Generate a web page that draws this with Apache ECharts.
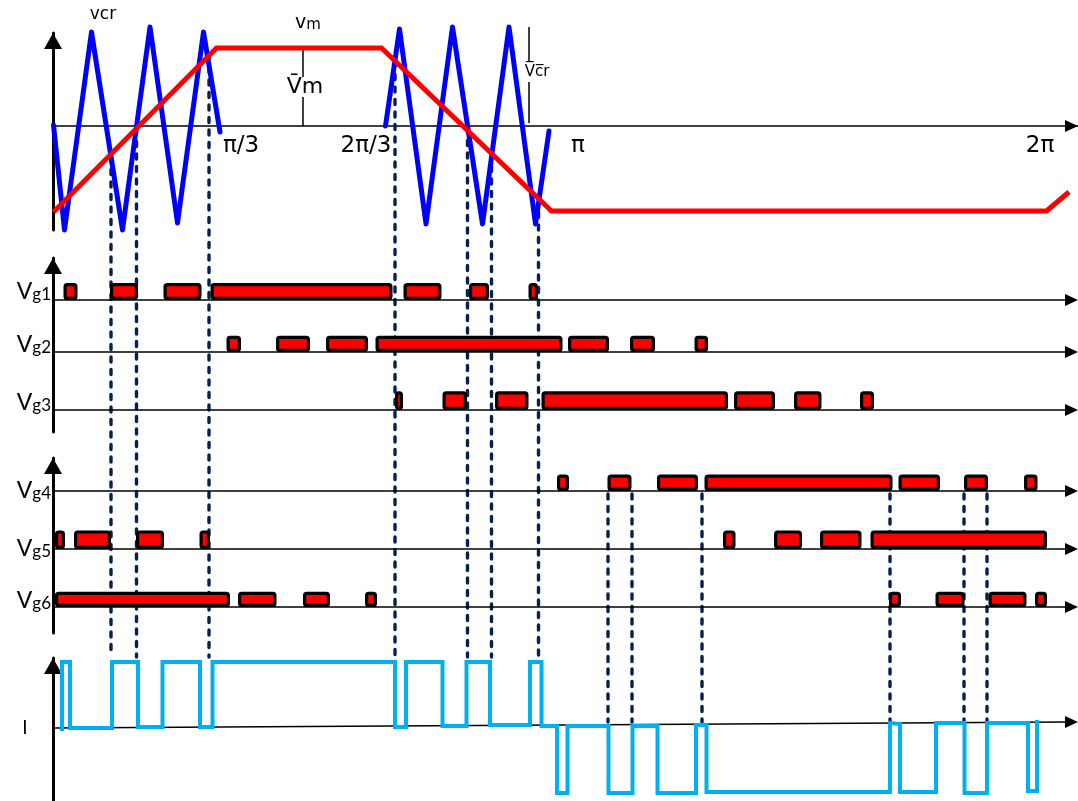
<!DOCTYPE html>
<html>
<head>
<meta charset="utf-8">
<script src="https://cdn.jsdelivr.net/npm/echarts/dist/echarts.min.js"></script>
<style>
html,body{margin:0;padding:0;background:#ffffff;}
#chart{width:1078px;height:801px;}
</style>
</head>
<body>
<div id="chart"></div>
<script>
// ---------------- DATA ----------------
// shared horizontal (angle) position scale
const X_MIN = 53, X_MAX = 1078;

// Panel A: triangular carriers (v_cr) and trapezoidal modulating wave (v_m); y = amplitude
const carrierFirst  = [[53.5,1],[64.5,-104],[91.5,94],[122.5,-104],[150,99],[177.5,-97],[203.5,94],[220,-6]];
const carrierSecond = [[385.5,0],[399.5,97],[426,-98],[452.5,99],[482.5,-98],[509,99],[535.5,-98],[549,-5]];
const modulating    = [[53.5,-86],[216.5,78],[381.5,78],[551.5,-85],[1046.5,-85],[1069,-66]];
// amplitude marker segments: [x, from, to]
const amplitudeMarks = [[303,78,49],[303,29,0],[529,99,64],[529,44,3]];
// angle tick labels
const angleTickLabels = ['π/3', '2π/3', 'π', '2π'];
const angleTickX = [241, 366, 578, 1040];
const angleTickY = -20;
// signal name labels in panel A
const signalLabels = ['vcr', 'vm', 'V\u0304m', 'V\u0305c\u0305r'];
const signalLabelPos = [[103,111],[308,103],[305,39],[537,54]];

// Panels B/C: gate pulses [start, end]
const vg1 = [[63.5,77.5],[110,138],[163.5,201.5],[210.5,392.5],[403.5,441.5],[469,489],[528.5,538]];
const vg2 = [[226.5,241],[276,310],[326,368],[375.5,562.5],[568,609],[630,655],[694.5,708]];
const vg3 = [[395,403],[442.5,467],[495,528.5],[541.5,728],[734,775],[794,821.5],[860,874]];
const vg4 = [[557,569],[607.5,631.5],[657,698],[704.5,892.5],[898.5,940],[964,988],[1024,1037.5]];
const vg5 = [[55,65],[74,111],[136,164],[199.5,210],[723,735.5],[774,802],[820,861.5],[870.5,1047]];
const vg6 = [[55,230],[238,276.5],[303,330],[365,377],[889,901],[935.5,964.5],[988.5,1026.5],[1035,1047]];
const gateNamesB = ['g1','g2','g3'];
const gateNamesC = ['g4','g5','g6'];
const rowBaseB = [132, 80, 22];
const rowBaseC = [142, 84, 26];
const pulseHeightB = [17, 16.3, 18.7];
const pulseHeightC = [16.5, 18.6, 15.3];
const gateLabelYB = [133, 80, 22];
const gateLabelYC = [135, 77, 25];
const gateLabelX = 51;

// Panel D: output current I (corner points)
const currentX = [62,62,70,70,112,112,138,138,162.5,162.5,200,200,212.5,212.5,395,395,406,406,442.5,442.5,466.5,466.5,490,490,530,530,541.5,541.5,
                  557,557,567.5,567.5,608.5,608.5,632.5,632.5,657.5,657.5,696,696,706.5,706.5,890,890,900,900,936,936,964.5,964.5,987,987,1028,1028,1037,1037];
const currentY = [-1,66,66,0,0,66,66,1,1,66,66,1,1,66,66,1,1,66,66,2,2,66,66,3,3,66,66,2,
                  2,-65,-65,2,2,-65,-65,2,2,-65,-65,3,3,-64,-64,5,4,-64,-64,5,5,-65,-65,5,5,-63,-63,6];
const currentBaseline = [[53,0],[1078,6]];

// Dotted switching guides (page scale, from top)
const guideLeftX   = [111, 136.5, 209, 395, 467.5, 491.5, 538.5];
const guideLeftTop = [155, 127, 53, 60, 126, 152, 198];
const guideLeftBottom = 657;
const guideRightX  = [608, 632, 702, 890, 964, 987];
const guideRightTop = 492;
const guideRightBottom = 722;

// ---------------- CHART ----------------
const chart = echarts.init(document.getElementById('chart'), null, {renderer: 'canvas'});

function xAxisFor(gi, showLine) {
  return {
    type: 'value', gridIndex: gi, min: X_MIN, max: X_MAX,
    axisLine: {show: showLine, onZero: true, symbol: ['none', 'triangle'], symbolSize: [12, 13], symbolOffset: [0, -6.5],
               lineStyle: {color: '#000', width: 1.5}},
    axisTick: {show: false}, axisLabel: {show: false}, splitLine: {show: false}
  };
}
function yAxisFor(gi, min, max, showLine, inverse) {
  return {
    type: 'value', gridIndex: gi, min: min, max: max, inverse: !!inverse,
    axisLine: {show: showLine, onZero: false, symbol: ['none', 'triangle'], symbolSize: [18, 16], symbolOffset: [0, -8],
               lineStyle: {color: '#000', width: 3}},
    axisTick: {show: false}, axisLabel: {show: false}, splitLine: {show: false}
  };
}

function baselineItem(params, api) {
  const p0 = api.coord([api.value(0), api.value(1)]);
  const p1 = api.coord([api.value(2), api.value(3)]);
  const dx = p1[0] - p0[0], dy = p1[1] - p0[1];
  const L = Math.hypot(dx, dy), ux = dx / L, uy = dy / L;
  const len = 13, half = 6;
  const bx = p1[0] - ux * len, by = p1[1] - uy * len;
  return {
    type: 'group', children: [
      {type: 'line', shape: {x1: p0[0], y1: p0[1], x2: bx + ux, y2: by + uy}, style: {stroke: '#000', lineWidth: 1.5}},
      {type: 'polygon', shape: {points: [[p1[0], p1[1]], [bx - uy * half, by + ux * half], [bx + uy * half, by - ux * half]]},
       style: {fill: '#000'}}
    ]
  };
}

function pulseItem(params, api) {
  const a = api.coord([api.value(0), api.value(2)]);
  const b = api.coord([api.value(1), api.value(2) + api.value(3)]);
  return {
    type: 'rect',
    shape: {x: a[0] + 1.6, y: b[1] + 1.6, width: b[0] - a[0] - 3.2, height: a[1] - b[1] - 3.2, r: 2},
    style: {fill: '#FF0000', stroke: '#000', lineWidth: 3.2}
  };
}

function pulseData(rows, bases, heights) {
  const out = [];
  rows.forEach((row, i) => row.forEach(p => out.push([p[0], p[1], bases[i], heights[i]])));
  return out;
}

function gateLabelSeries(gi, names, ys) {
  return {
    type: 'custom', xAxisIndex: gi, yAxisIndex: gi, z: 5, clip: false,
    data: names.map((n, i) => [gateLabelX, ys[i]]),
    renderItem: function (params, api) {
      const p = api.coord([api.value(0), api.value(1)]);
      return {
        type: 'text', x: p[0], y: p[1] + 4,
        style: {
          text: '{v|V}{s|' + names[params.dataIndex] + '}',
          align: 'right', verticalAlign: 'bottom', fill: '#000',
          rich: {
            v: {fontSize: 23, fontFamily: 'Lato', lineHeight: 23, verticalAlign: 'bottom', fill: '#000'},
            s: {fontSize: 17, fontFamily: 'Lato', lineHeight: 17, verticalAlign: 'bottom', fill: '#000'}
          }
        }
      };
    }
  };
}

const option = {
  animation: false,
  backgroundColor: '#ffffff',
  grid: [
    {left: X_MIN, right: 0, top: 33, height: 197},   // A modulation
    {left: X_MIN, right: 0, top: 258, height: 174},  // B Vg1..Vg3
    {left: X_MIN, right: 0, top: 458, height: 175},  // C Vg4..Vg6
    {left: X_MIN, right: 0, top: 658, height: 143},  // D current
    {left: X_MIN, right: 0, top: 0, height: 801}     // E page guides
  ],
  xAxis: [xAxisFor(0, true), xAxisFor(1, false), xAxisFor(2, false), xAxisFor(3, false), xAxisFor(4, false)],
  yAxis: [
    yAxisFor(0, -104, 93, true),
    yAxisFor(1, 0, 174, true),
    yAxisFor(2, 0, 175, true),
    yAxisFor(3, -73, 70, true),
    yAxisFor(4, 0, 801, false, true)
  ],
  series: [
    // dotted guides
    {
      type: 'custom', xAxisIndex: 4, yAxisIndex: 4, z: 1, clip: false,
      data: guideLeftX.map((x, i) => [x, guideLeftTop[i], guideLeftBottom])
            .concat(guideRightX.map(x => [x, guideRightTop, guideRightBottom])),
      renderItem: function (params, api) {
        const a = api.coord([api.value(0), api.value(1)]);
        const b = api.coord([api.value(0), api.value(2)]);
        return {type: 'line', shape: {x1: a[0], y1: a[1] + 2, x2: b[0], y2: b[1]},
                style: {stroke: '#06204F', lineWidth: 3.4, lineDash: [5, 7.5], lineCap: 'round'}};
      }
    },
    // carriers
    {type: 'line', xAxisIndex: 0, yAxisIndex: 0, data: carrierFirst, symbol: 'none', clip: false, z: 3,
     lineStyle: {color: '#0000FF', width: 5, join: 'round', cap: 'round'}},
    {type: 'line', xAxisIndex: 0, yAxisIndex: 0, data: carrierSecond, symbol: 'none', clip: false, z: 3,
     lineStyle: {color: '#0000FF', width: 5, join: 'round', cap: 'round'}},
    // modulating
    {type: 'line', xAxisIndex: 0, yAxisIndex: 0, data: modulating, symbol: 'none', clip: false, z: 4,
     lineStyle: {color: '#FF0000', width: 5, join: 'miter', cap: 'butt'}},
    // amplitude marker segments
    {
      type: 'custom', xAxisIndex: 0, yAxisIndex: 0, z: 4, clip: false, data: amplitudeMarks,
      renderItem: function (params, api) {
        const a = api.coord([api.value(0), api.value(1)]);
        const b = api.coord([api.value(0), api.value(2)]);
        return {type: 'line', shape: {x1: a[0], y1: a[1], x2: b[0], y2: b[1]}, style: {stroke: '#000', lineWidth: 1.5}};
      }
    },
    // angle tick labels
    {
      type: 'custom', xAxisIndex: 0, yAxisIndex: 0, z: 5, clip: false,
      data: angleTickX.map(x => [x, angleTickY]),
      renderItem: function (params, api) {
        const p = api.coord([api.value(0), api.value(1)]);
        return {type: 'text', x: p[0], y: p[1],
                style: {text: angleTickLabels[params.dataIndex], fontSize: 23, fontFamily: 'DejaVu Sans',
                        fill: '#000', align: 'center', verticalAlign: 'middle'}};
      }
    },
    // signal labels
    {
      type: 'custom', xAxisIndex: 0, yAxisIndex: 0, z: 5, clip: false, data: signalLabelPos,
      renderItem: function (params, api) {
        const p = api.coord([api.value(0), api.value(1)]);
        const i = params.dataIndex;
        const styles = [
          {text: signalLabels[0], fontSize: 17, fontFamily: 'DejaVu Sans'},
          {text: '{a|' + signalLabels[1].charAt(0) + '}{b|' + signalLabels[1].slice(1) + '}',
           rich: {a: {fontSize: 19, fontFamily: 'DejaVu Sans', lineHeight: 19, verticalAlign: 'bottom'},
                  b: {fontSize: 15, fontFamily: 'DejaVu Sans', lineHeight: 15, verticalAlign: 'bottom'}}},
          {text: signalLabels[2], fontSize: 22, fontFamily: 'DejaVu Sans'},
          {text: signalLabels[3], fontSize: 15, fontFamily: 'DejaVu Sans'}
        ];
        const s = Object.assign({fill: '#000', align: 'center', verticalAlign: 'middle'}, styles[i]);
        return {type: 'text', x: p[0], y: p[1], style: s};
      }
    },
    // baselines B, C, D
    {type: 'custom', xAxisIndex: 1, yAxisIndex: 1, z: 2, clip: false,
     data: rowBaseB.map(b => [X_MIN, b, X_MAX, b]), renderItem: baselineItem},
    {type: 'custom', xAxisIndex: 2, yAxisIndex: 2, z: 2, clip: false,
     data: rowBaseC.map(b => [X_MIN, b, X_MAX, b]), renderItem: baselineItem},
    {type: 'custom', xAxisIndex: 3, yAxisIndex: 3, z: 2, clip: false,
     data: [[currentBaseline[0][0], currentBaseline[0][1], currentBaseline[1][0], currentBaseline[1][1]]], renderItem: baselineItem},
    // gate pulses
    {type: 'custom', xAxisIndex: 1, yAxisIndex: 1, z: 3, clip: false,
     data: pulseData([vg1, vg2, vg3], rowBaseB, pulseHeightB), renderItem: pulseItem},
    {type: 'custom', xAxisIndex: 2, yAxisIndex: 2, z: 3, clip: false,
     data: pulseData([vg4, vg5, vg6], rowBaseC, pulseHeightC), renderItem: pulseItem},
    // gate labels
    gateLabelSeries(1, gateNamesB, gateLabelYB),
    gateLabelSeries(2, gateNamesC, gateLabelYC),
    // current
    {type: 'line', xAxisIndex: 3, yAxisIndex: 3, z: 4, clip: false, symbol: 'none',
     data: currentX.map((x, i) => [x, currentY[i]]),
     lineStyle: {color: '#00B0F0', width: 4, join: 'miter', cap: 'square'}},
    // current label
    {type: 'custom', xAxisIndex: 3, yAxisIndex: 3, z: 5, clip: false, data: [[25, 0]],
     renderItem: function (params, api) {
       const p = api.coord([api.value(0), api.value(1)]);
       return {type: 'text', x: p[0], y: p[1],
               style: {text: 'I', fontSize: 19, fontFamily: 'Lato', fill: '#000', align: 'center', verticalAlign: 'middle'}};
     }}
  ]
};
chart.setOption(option);
</script>
</body>
</html>
